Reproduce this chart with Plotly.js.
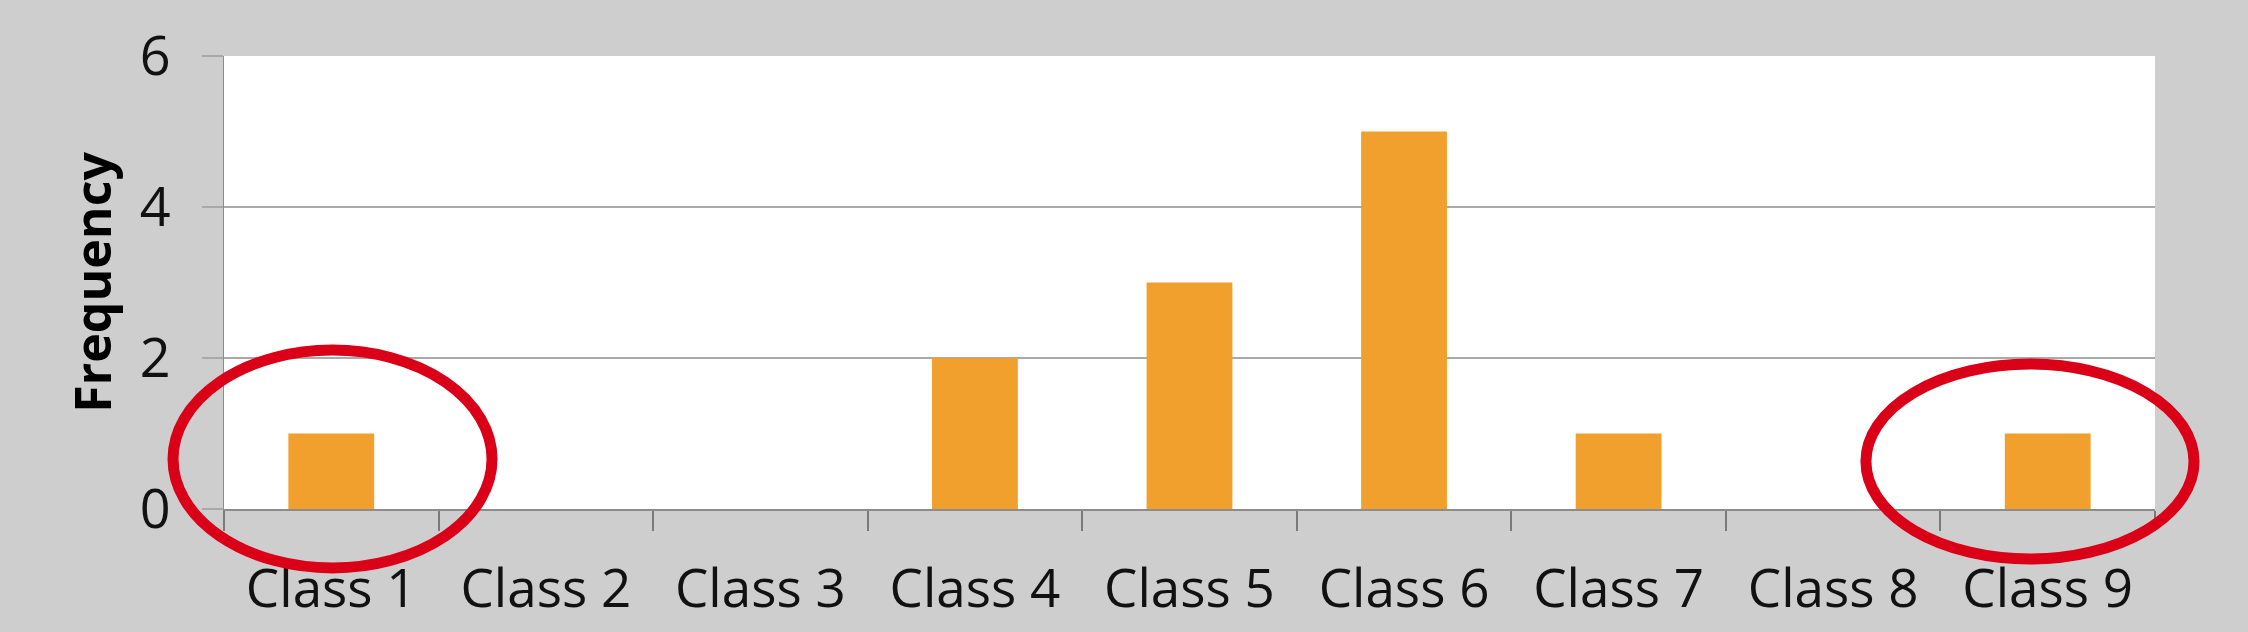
<!DOCTYPE html>
<html>
<head>
<meta charset="utf-8">
<script src="https://cdn.plot.ly/plotly-3.0.1.min.js"></script>
<style>
  html, body { margin: 0; padding: 0; background: #cecece; }
  #chart { width: 2248px; height: 632px; }
</style>
</head>
<body>
<div id="chart"></div>
<script>
// ---- data ----
const categories = ["Class 1", "Class 2", "Class 3", "Class 4", "Class 5", "Class 6", "Class 7", "Class 8", "Class 9"];
const frequency = [1, 0, 0, 2, 3, 5, 1, 0, 1];
const yTickValues = [0, 2, 4, 6];
const yAxisTitle = "Frequency";

const barColor = "#F2A02D";
const gridColor = "#a9a9a9";
const ringColor = "#DA0018";

const trace = {
  type: "bar",
  x: categories,
  y: frequency,
  marker: { color: barColor, line: { width: 0 } },
  hoverinfo: "x+y"
};

// red ellipses around Class 1 and Class 9 (axis-domain coordinates)
const ringShapes = [
  { x0: -0.0264, x1: 0.1388, y0: -0.1300, y1: 0.3508 },
  { x0: 0.8503, x1: 1.0202, y0: -0.1103, y1: 0.3199 }
].map(r => ({
  type: "circle",
  xref: "x domain", yref: "y domain",
  x0: r.x0, x1: r.x1, y0: r.y0, y1: r.y1,
  line: { color: ringColor, width: 11 },
  fillcolor: "rgba(0,0,0,0)",
  layer: "above"
}));

const layout = {
  width: 2248,
  height: 632,
  margin: { l: 224, r: 93, t: 56, b: 123, pad: 0 },
  paper_bgcolor: "#cecece",
  plot_bgcolor: "#ffffff",
  showlegend: false,
  bargap: 0.6,
  font: { family: "Open Sans, sans-serif", size: 52, color: "#111111" },
  xaxis: {
    type: "category",
    tickson: "boundaries",
    ticks: "outside",
    ticklen: 20,
    tickwidth: 2,
    tickcolor: "#7a7a7a",
    showgrid: false,
    showline: true,
    linecolor: "#8c8c8c",
    linewidth: 2,
    tickfont: { family: "Open Sans, sans-serif", size: 53, color: "#111111" },
    ticklabelstandoff: 32,
    fixedrange: true
  },
  yaxis: {
    range: [0, 6],
    tickvals: yTickValues,
    ticktext: yTickValues.map(String),
    ticks: "outside",
    ticklen: 21,
    tickwidth: 2,
    tickcolor: gridColor,
    showgrid: true,
    gridcolor: gridColor,
    gridwidth: 2,
    zeroline: false,
    showline: true,
    linecolor: "#8c8c8c",
    linewidth: 1.5,
    tickfont: { family: "Open Sans, sans-serif", size: 54, color: "#111111" },
    ticklabelstandoff: 20,
    automargin: false,
    title: {
      text: yAxisTitle,
      font: { family: "Open Sans, sans-serif", size: 50, color: "#000000", weight: "bold" },
      standoff: 12
    },
    fixedrange: true
  },
  shapes: ringShapes
};

Plotly.newPlot("chart", [trace], layout, { displayModeBar: false, staticPlot: true });
</script>
</body>
</html>
